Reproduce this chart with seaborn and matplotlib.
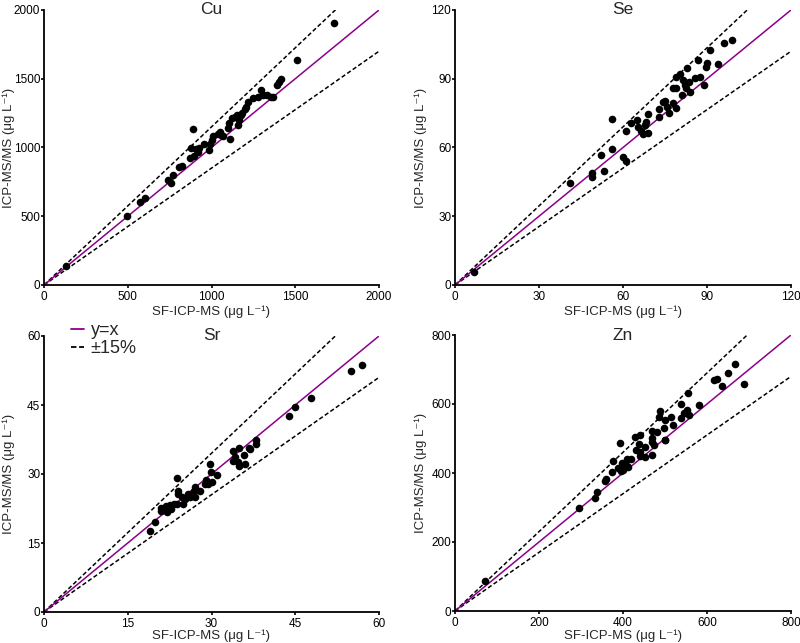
import numpy as np
import pandas as pd
import matplotlib
matplotlib.use("Agg")
import matplotlib.pyplot as plt
import seaborn as sns
from matplotlib.lines import Line2D

sns.set_theme(style="ticks")
plt.rcParams['font.family'] = ['Liberation Sans', 'DejaVu Sans']

# ---- data ----
cu_x = [133, 494, 572, 600, 743, 757, 773, 805, 823, 870, 875, 890, 896, 906, 922, 926,
        954, 984, 990, 1000, 1010, 1040, 1050, 1054, 1066, 1100, 1110, 1106, 1124, 1139,
        1155, 1159, 1165, 1175, 1185, 1199, 1205, 1219, 1249, 1279, 1293, 1309, 1329,
        1355, 1369, 1392, 1402, 1414, 1508, 1733]
cu_y = [141, 504, 601, 630, 763, 742, 802, 860, 868, 926, 994, 1132, 938, 989, 970, 994,
        1023, 982, 1025, 1054, 1083, 1096, 1115, 1091, 1083, 1139, 1059, 1176, 1217, 1224,
        1236, 1164, 1200, 1236, 1248, 1277, 1297, 1328, 1357, 1370, 1418, 1382, 1382,
        1370, 1370, 1454, 1474, 1498, 1636, 1908]

se_x = [6.9, 40.9, 49.0, 49.1, 52.0, 53.1, 55.9, 55.9, 59.9, 60.9, 61.0, 62.9, 64.9, 65.2,
        66.5, 67.0, 67.7, 68.2, 68.9, 69.1, 73.0, 73.0, 74.2, 75.1, 75.7, 76.3, 77.8, 79.0,
        78.0, 79.0, 79.0, 80.2, 81.0, 81.6, 82.2, 82.6, 83.0, 83.4, 84.0, 85.6, 86.8, 87.6,
        89.0, 89.7, 90.0, 90.9, 93.9, 95.9, 99.1]
se_y = [5.8, 44.7, 47.3, 48.7, 56.7, 49.7, 72.4, 59.3, 56.0, 54.1, 67.3, 70.8, 72.0, 68.8,
        67.2, 65.9, 69.8, 71.0, 74.5, 66.2, 76.7, 73.5, 80.0, 80.4, 77.8, 75.2, 79.3, 77.1,
        85.8, 86.1, 90.6, 92.1, 82.9, 89.5, 87.3, 85.8, 94.5, 88.7, 84.4, 90.2, 98.2, 90.9,
        87.3, 95.3, 96.7, 102.5, 96.4, 105.5, 106.9]

sr_x = [18.9, 19.8, 20.9, 21.0, 21.8, 22.0, 22.5, 22.8, 23.3, 23.9, 23.9, 24.0, 24.0, 24.8,
        24.9, 25.2, 25.8, 26.1, 26.9, 27.0, 27.0, 27.9, 28.8, 29.1, 29.4, 29.8, 29.9, 30.0,
        30.9, 33.9, 33.9, 34.2, 34.8, 34.9, 35.0, 35.9, 36.0, 36.8, 36.9, 37.9, 37.9, 43.9,
        44.9, 47.9, 54.9, 57.0]
sr_y = [17.7, 19.5, 22.6, 21.9, 23.0, 21.7, 23.2, 22.5, 23.5, 23.5, 29.1, 26.2, 25.7, 25.1,
        23.5, 24.6, 25.7, 25.0, 26.4, 27.2, 25.0, 26.2, 27.9, 28.6, 27.9, 32.2, 30.4, 28.3,
        29.7, 35.1, 32.8, 33.7, 32.6, 35.6, 31.7, 34.1, 32.2, 35.6, 35.5, 37.5, 36.6, 42.6,
        44.6, 46.5, 52.5, 53.8]

zn_x = [71.5, 296, 334, 338, 356, 359, 373, 377, 389, 393, 397, 401, 409, 412, 429, 441,
        431, 437, 441, 453, 453, 470, 470, 473, 470, 486, 489, 497, 501, 501, 515, 520,
        539, 539, 552, 554, 556, 580, 616, 624, 636, 651, 667, 687, 395, 410, 440, 480,
        500, 545, 470, 420]
zn_y = [88, 300, 327, 344, 377, 382, 402, 435, 414, 486, 428, 409, 441, 418, 505, 510,
        467, 483, 462, 476, 447, 522, 501, 481, 452, 563, 580, 530, 554, 496, 563, 539,
        599, 559, 583, 631, 568, 597, 670, 673, 653, 689, 715, 658, 405, 420, 450, 520,
        495, 575, 490, 440]

panels = [
    ("Cu", cu_x, cu_y, 2000, [0, 500, 1000, 1500, 2000]),
    ("Se", se_x, se_y, 120, [0, 30, 60, 90, 120]),
    ("Sr", sr_x, sr_y, 60, [0, 15, 30, 45, 60]),
    ("Zn", zn_x, zn_y, 800, [0, 200, 400, 600, 800]),
]

W, H = 800, 643
fig = plt.figure(figsize=(W / 100, H / 100), dpi=100)
# (left, top, right, bottom) pixel boxes, ylabel right-edge x, xlabel offset
rects = [
    (44, 10, 379, 285, 15, 21), (455, 10, 791, 285, 427, 21),
    (44, 336, 379, 612, 15, 18), (455, 335, 791, 611, 427, 18.5),
]
purple = "#8B008B"
dash = (0, (2.8, 1.6))

for (name, xs, ys, mx, ticks), (l, t, r, b, ylr, xoff) in zip(panels, rects):
    aw, ah = r - l, b - t
    ax = fig.add_axes([l / W, 1 - b / H, aw / W, ah / H])
    df = pd.DataFrame({"x": xs, "y": ys})
    line_x = np.array([0, mx])
    ax.plot(line_x, line_x * 1.15, color="black", lw=1.1, ls=dash, zorder=2)
    ax.plot(line_x, line_x * 0.85, color="black", lw=1.1, ls=dash, zorder=2)
    ax.plot(line_x, line_x, color=purple, lw=1.1, zorder=2)
    sns.scatterplot(data=df, x="x", y="y", ax=ax, color="black", s=30,
                    edgecolor="black", linewidth=0, zorder=3, clip_on=False)
    ax.set_xlim(0, mx)
    ax.set_ylim(0, mx)
    ax.set_xticks(ticks)
    ax.set_yticks(ticks)
    ax.set_xticklabels([str(v) for v in ticks])
    ax.set_yticklabels([str(v) for v in ticks])
    for s in ["top", "right"]:
        ax.spines[s].set_visible(False)
    for s in ["left", "bottom"]:
        ax.spines[s].set_linewidth(1.3)
        ax.spines[s].set_color("black")
    ax.tick_params(axis="both", direction="out", length=2.2, width=1.2,
                   labelsize=8.5, colors="black")
    ax.tick_params(axis="x", pad=1.8)
    ax.tick_params(axis="y", pad=0.5)
    ax.set_xlabel("SF-ICP-MS (μg L⁻¹)", fontsize=9.5)
    ax.set_ylabel("ICP-MS/MS (μg L⁻¹)", fontsize=9.5)
    ax.xaxis.set_label_coords(0.5, -xoff / ah)
    ax.yaxis.set_label_coords((ylr - l) / aw, 0.5)
    ax.text(0.5, 1.0, name, transform=ax.transAxes, ha="center", va="center",
            fontsize=12.5)
    if name == "Sr":
        handles = [Line2D([0], [0], color=purple, lw=1.3),
                   Line2D([0], [0], color="black", lw=1.3, ls=(0, (3, 1.5)))]
        ax.legend(handles, ["y=x", "±15%"], loc="upper left",
                  bbox_to_anchor=(71 / W, 1 - 322 / H),
                  bbox_transform=fig.transFigure, frameon=False,
                  prop={"size": 13},
                  handlelength=0.7, handletextpad=0.4, labelspacing=0.05,
                  borderaxespad=0, borderpad=0)

fig.savefig("out.png", dpi=100)
